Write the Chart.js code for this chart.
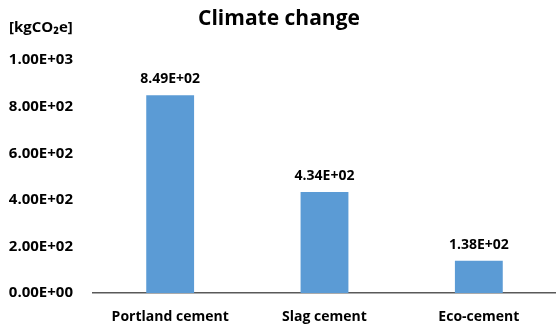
<!DOCTYPE html>
<html><head><meta charset="utf-8">
<script src="https://cdn.jsdelivr.net/npm/chart.js@4/dist/chart.umd.min.js"></script>
<style>html,body{margin:0;padding:0;background:#fff}#wrap{width:556px;height:324px}</style>
</head><body><div id="wrap"><canvas id="c" width="556" height="324"></canvas></div>
<script>
const categories = ["Portland cement", "Slag cement", "Eco-cement"];
const climateValues = [849, 434, 138];
const yTicks = [0, 200, 400, 600, 800, 1000];
const titleText = "Climate change";
const unitText = "[kgCO\u2082e]";

function fmtE(v){
  if (v === 0) return "0.00E+00";
  const e = Math.floor(Math.log10(Math.abs(v)));
  const m = v / Math.pow(10, e);
  return m.toFixed(2) + "E" + (e >= 0 ? "+" : "-") + String(Math.abs(e)).padStart(2, "0");
}
const FONT = "'Open Sans', 'Noto Sans', sans-serif";

const labelPlugin = {
  id: 'labels',
  afterDatasetsDraw(chart){
    const ctx = chart.ctx;
    const meta = chart.getDatasetMeta(0);
    ctx.save();
    ctx.font = "bold 14px " + FONT;
    ctx.fillStyle = "#000";
    ctx.textAlign = "center";
    ctx.textBaseline = "middle";
    meta.data.forEach((bar, i) => {
      ctx.fillText(fmtE(climateValues[i]), bar.x, bar.y - 16);
    });
    ctx.font = "bold 15px " + FONT;
    ctx.textAlign = "left";
    ctx.fillText(unitText, 9, 28);
    ctx.restore();
  }
};

new Chart(document.getElementById('c'), {
  type: 'bar',
  data: {
    labels: categories,
    datasets: [{
      data: climateValues,
      backgroundColor: '#5B9BD5',
      categoryPercentage: 1,
      barPercentage: 0.31
    }]
  },
  options: {
    responsive: false,
    animation: false,
    devicePixelRatio: 1,
    layout: { padding: { left: 0, right: -2, top: 0, bottom: 0 } },
    plugins: {
      legend: { display: false },
      tooltip: { enabled: false },
      title: {
        display: true,
        text: titleText,
        color: '#000',
        font: { family: FONT, size: 21, weight: 'bold' },
        padding: { top: 6, bottom: 29 }
      }
    },
    scales: {
      x: {
        grid: { display: false },
        border: { display: true, color: '#595959', width: 1.5 },
        ticks: { color: '#000', font: { family: FONT, size: 14, weight: 'bold' }, padding: 8, maxRotation: 0 },
        afterFit(scale){ scale.height = 31; }
      },
      y: {
        min: 0, max: 1000,
        afterBuildTicks(axis){ axis.ticks = yTicks.map(v => ({ value: v })); },
        grid: { display: false },
        border: { display: false },
        ticks: {
          color: '#000',
          font: { family: FONT, size: 15, weight: 'bold' },
          padding: 12,
          callback: v => fmtE(v)
        },
        afterFit(scale){ scale.width = 93; }
      }
    }
  },
  plugins: [labelPlugin]
});
</script>
</body></html>
